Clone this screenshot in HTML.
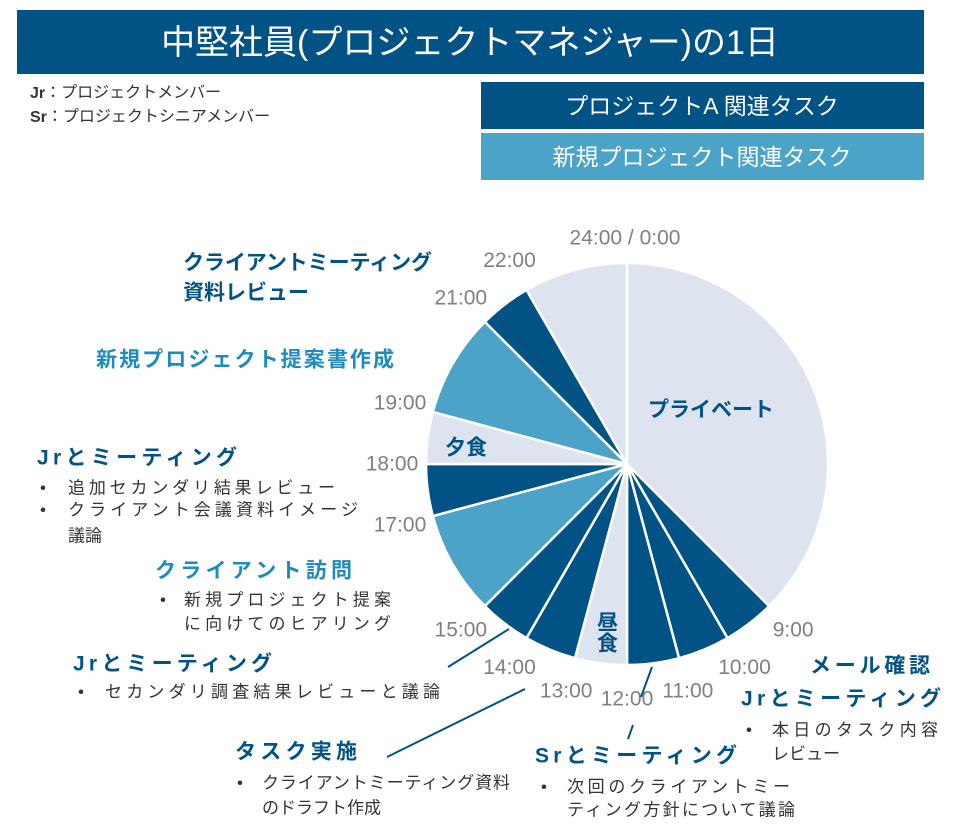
<!DOCTYPE html>
<html><head><meta charset="utf-8">
<style>
html,body{margin:0;padding:0;background:#fff;}
svg{display:block;font-family:"Liberation Sans","Noto Sans CJK JP",sans-serif;}
.t{fill:#808080;font-size:21px;}
.hd{fill:#005384;font-size:21px;font-weight:bold;}
.hm{fill:#1e8bbf;font-size:21px;font-weight:bold;}
.b{fill:#333;font-size:17px;}
</style></head>
<body>
<svg id="chart" width="958" height="837" viewBox="0 0 958 837">
<rect x="17" y="10" width="907" height="64" fill="#005384"/>
<text x="470" y="43" fill="#fff" font-size="34" text-anchor="middle" dominant-baseline="central">中堅社員(プロジェクトマネジャー)の1日</text>
<text x="30" y="93" font-size="16" fill="#333" dominant-baseline="central"><tspan font-weight="bold">Jr</tspan>：プロジェクトメンバー</text>
<text x="30" y="117" font-size="16" fill="#333" dominant-baseline="central"><tspan font-weight="bold">Sr</tspan>：プロジェクトシニアメンバー</text>
<rect x="481" y="82" width="443" height="47" fill="#005384"/>
<text x="702" y="106" fill="#fff" font-size="23" text-anchor="middle" dominant-baseline="central">プロジェクトA 関連タスク</text>
<rect x="481" y="133" width="443" height="47" fill="#4ba3c7"/>
<text x="702" y="157" fill="#fff" font-size="23" text-anchor="middle" dominant-baseline="central">新規プロジェクト関連タスク</text>
<g id="slices"></g>
<g id="ticks"></g>
<text x="711" y="410" class="hd" font-weight="normal" font-size="20" text-anchor="middle" dominant-baseline="central">プライベート</text>
<text x="466" y="448" class="hd" font-size="20" text-anchor="middle" dominant-baseline="central">夕食</text>
<text x="606" y="632" class="hd" font-size="20" text-anchor="middle" dominant-baseline="central" writing-mode="tb" glyph-orientation-vertical="0">昼食</text>
<g fill="none" stroke="#005384" stroke-width="2">
<line x1="448" y1="667" x2="509" y2="629"/>
<line x1="387" y1="757" x2="525" y2="689"/>
<line x1="641" y1="697" x2="652" y2="667"/>
<line x1="628" y1="739" x2="633" y2="725"/>
</g>
<g dominant-baseline="central">
<text x="183" y="263" class="hd" textLength="249">クライアントミーティング</text>
<text x="183" y="293" class="hd">資料レビュー</text>
<text x="96" y="360" class="hm" textLength="298">新規プロジェクト提案書作成</text>
<text x="37" y="458" class="hd" textLength="200">Jrとミーティング</text>
<text x="40" y="488" class="b">•</text>
<text x="68" y="488" class="b" textLength="267">追加セカンダリ結果レビュー</text>
<text x="40" y="510" class="b">•</text>
<text x="68" y="510" class="b" textLength="290">クライアント会議資料イメージ</text>
<text x="68" y="536" class="b">議論</text>
<text x="155" y="571" class="hm" textLength="197">クライアント訪問</text>
<text x="160" y="600" class="b">•</text>
<text x="184" y="600" class="b" textLength="207">新規プロジェクト提案</text>
<text x="184" y="624" class="b" textLength="207">に向けてのヒアリング</text>
<text x="73" y="664" class="hd" textLength="199">Jrとミーティング</text>
<text x="78" y="692" class="b">•</text>
<text x="105" y="692" class="b" textLength="335">セカンダリ調査結果レビューと議論</text>
<text x="235" y="752" class="hd" textLength="122">タスク実施</text>
<text x="237" y="783" class="b">•</text>
<text x="262" y="783" class="b" textLength="248">クライアントミーティング資料</text>
<text x="262" y="808" class="b">のドラフト作成</text>
<text x="535" y="756" class="hd" textLength="202">Srとミーティング</text>
<text x="541" y="787" class="b">•</text>
<text x="567" y="787" class="b" textLength="223">次回のクライアントミー</text>
<text x="567" y="810" class="b" textLength="228">ティング方針について議論</text>
<text x="810" y="666" class="hd" textLength="120">メール確認</text>
<text x="741" y="699" class="hd" textLength="200">Jrとミーティング</text>
<text x="746" y="730" class="b">•</text>
<text x="772" y="730" class="b" textLength="166">本日のタスク内容</text>
<text x="772" y="754" class="b">レビュー</text>
</g>
</svg>
<script>
const sliceStarts = [0, 9, 10, 11, 12, 13, 14, 15, 17, 18, 19, 21, 22];
const sliceEnds   = [9, 10, 11, 12, 13, 14, 15, 17, 18, 19, 21, 22, 24];
const sliceTypes  = ["private","projA","projA","projA","private","projA","projA","newProj","projA","private","newProj","projA","private"];
const tickHours  = [0, 22, 21, 19, 18, 17, 15, 14, 13, 12, 11, 10, 9];
const tickLabels = ["24:00 / 0:00","22:00","21:00","19:00","18:00","17:00","15:00","14:00","13:00","12:00","11:00","10:00","9:00"];

const NS = "http://www.w3.org/2000/svg";
const cx = 627, cy = 464, R = 201;
const colors = {private:"#dee4ef", projA:"#005384", newProj:"#4ba3c7"};
function ang(h){ return h / 24 * 2 * Math.PI; }
function pt(h, r){ const a = ang(h); return [cx + r * Math.sin(a), cy - r * Math.cos(a)]; }

const g = document.getElementById("slices");
for (let i = 0; i < sliceStarts.length; i++) {
  const [x1, y1] = pt(sliceStarts[i], R);
  const [x2, y2] = pt(sliceEnds[i], R);
  const large = (sliceEnds[i] - sliceStarts[i]) > 12 ? 1 : 0;
  const p = document.createElementNS(NS, "path");
  p.setAttribute("d", `M${cx},${cy} L${x1},${y1} A${R},${R} 0 ${large} 1 ${x2},${y2} Z`);
  p.setAttribute("fill", colors[sliceTypes[i]]);
  p.setAttribute("stroke", "#fff");
  p.setAttribute("stroke-width", "2.5");
  p.setAttribute("stroke-linejoin", "round");
  
  
  g.appendChild(p);
}

const tg = document.getElementById("ticks");
const rOff = [225, 240, 245, 248, 240, 235, 232, 240, 245, 248, 245, 245, 240];
for (let i = 0; i < tickHours.length; i++) {
  const h = tickHours[i];
  const [x, y] = pt(h, R + 26 + (h === 0 ? 0 : 8));
  const t = document.createElementNS(NS, "text");
  t.setAttribute("x", h === 0 ? cx - 2 : x);
  t.setAttribute("y", h === 0 ? 238 : y);
  t.setAttribute("class", "t");
  t.setAttribute("text-anchor", "middle");
  t.setAttribute("dominant-baseline", "central");
  t.textContent = tickLabels[i];
  
  
  tg.appendChild(t);
}
</script>
</body></html>
